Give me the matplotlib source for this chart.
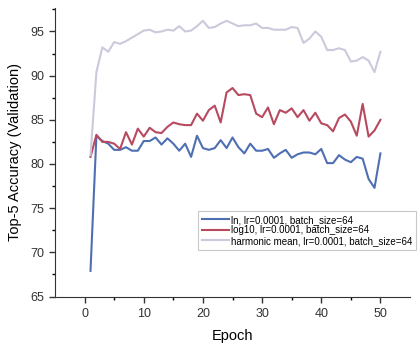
import matplotlib.pyplot as plt
import numpy as np

plt.rcParams['font.family'] = ['Liberation Sans', 'DejaVu Sans']

epochs = np.arange(1, 51)

ln_acc = [67.9, 83.2, 82.6, 82.3, 81.6, 81.6, 81.9, 81.5, 81.5, 82.6,
          82.6, 83.0, 82.2, 82.9, 82.3, 81.5, 82.3, 80.8, 83.2, 81.8,
          81.6, 81.8, 82.7, 81.8, 83.0, 81.9, 81.2, 82.3, 81.5, 81.5,
          81.7, 80.7, 81.2, 81.6, 80.7, 81.1, 81.3, 81.3, 81.1, 81.7,
          80.1, 80.1, 81.0, 80.5, 80.2, 80.8, 80.6, 78.3, 77.3, 81.2]

log10_acc = [80.8, 83.3, 82.5, 82.5, 82.3, 81.7, 83.6, 82.2, 84.0, 83.1,
             84.1, 83.6, 83.5, 84.2, 84.7, 84.5, 84.4, 84.4, 85.7, 84.9,
             86.1, 86.6, 84.7, 88.1, 88.6, 87.8, 87.9, 87.8, 85.7, 85.3,
             86.4, 84.5, 86.1, 85.8, 86.3, 85.3, 86.1, 84.9, 85.8, 84.6,
             84.4, 83.7, 85.2, 85.6, 84.8, 83.2, 86.8, 83.1, 83.8, 85.0]

harm_acc = [81.0, 90.4, 93.2, 92.7, 93.8, 93.6, 93.9, 94.3, 94.7, 95.1,
            95.2, 94.9, 95.0, 95.2, 95.1, 95.6, 95.0, 95.1, 95.6, 96.2,
            95.4, 95.5, 95.9, 96.2, 95.9, 95.6, 95.7, 95.7, 95.9, 95.4,
            95.4, 95.2, 95.2, 95.2, 95.5, 95.4, 93.7, 94.2, 95.0, 94.4,
            92.9, 92.9, 93.1, 92.9, 91.6, 91.7, 92.1, 91.7, 90.4, 92.7]

fig = plt.figure(figsize=(4.18, 3.52), dpi=100)
ax = fig.add_axes([55/418, 55.5/352, 355/418, 288/352])

ax.plot(epochs, ln_acc, color='#4f6fb3', lw=1.5, label='ln, lr=0.0001, batch_size=64')
ax.plot(epochs, log10_acc, color='#b84a60', lw=1.5, label='log10, lr=0.0001, batch_size=64')
ax.plot(epochs, harm_acc, color='#cacadc', lw=1.5, label='harmonic mean, lr=0.0001, batch_size=64')

ax.set_xlim(-5, 55)
ax.set_ylim(65, 97.6)
ax.set_xticks([0, 10, 20, 30, 40, 50])
ax.set_xticks([5, 15, 25, 35, 45], minor=True)
ax.set_yticks([65, 70, 75, 80, 85, 90, 95])
ax.set_yticks(np.arange(67.5, 97.6, 5), minor=True)
ax.tick_params(labelsize=9, colors='#333333', length=4, width=1, pad=4)
ax.tick_params(which='minor', length=2.5, width=1)
for s in ['top', 'right']:
    ax.spines[s].set_visible(False)
for s in ['left', 'bottom']:
    ax.spines[s].set_color('#333333')

ax.set_xlabel('Epoch', fontsize=10.5, labelpad=7)
ax.set_ylabel('Top-5 Accuracy (Validation)', fontsize=10.5, labelpad=6)

leg = ax.legend(loc='upper left', bbox_to_anchor=(198/418, 141/352), bbox_transform=fig.transFigure,
                fontsize=7, frameon=True, fancybox=False, handlelength=2.8, handletextpad=0.15,
                borderpad=0.4, labelspacing=0.05, borderaxespad=0)
leg.get_frame().set_edgecolor('#bbbbbb')
leg.get_frame().set_linewidth(0.8)

fig.savefig('out.png', dpi=100)
